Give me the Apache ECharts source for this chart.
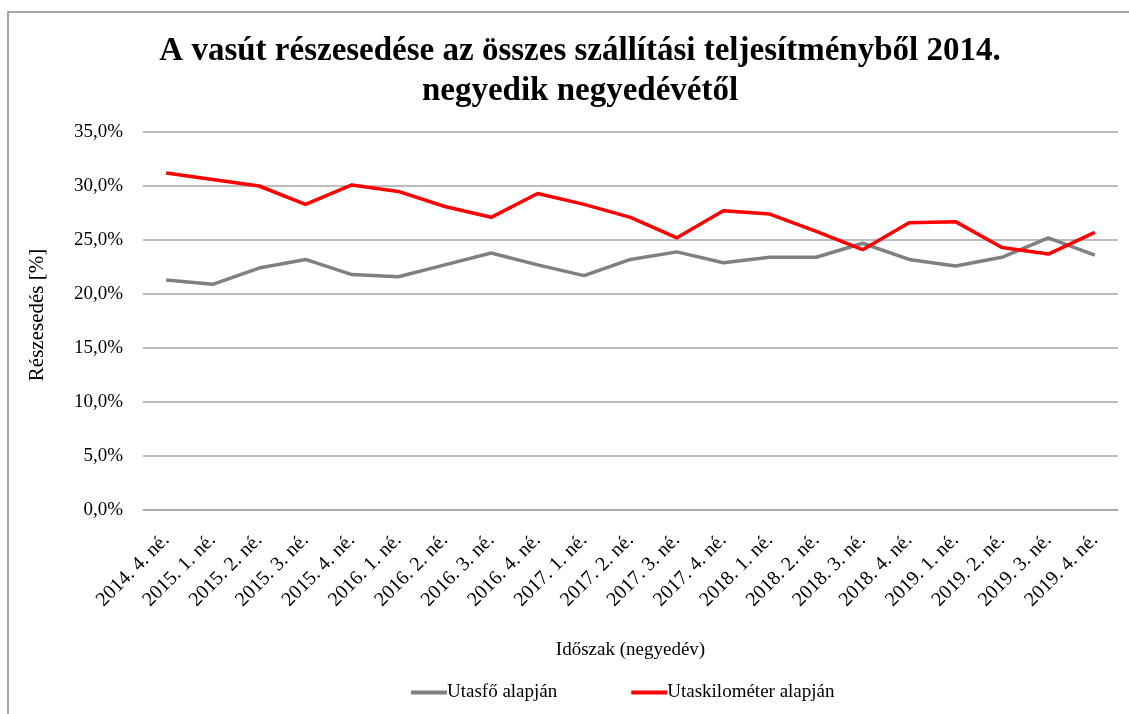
<!DOCTYPE html>
<html>
<head>
<meta charset="utf-8">
<script src="https://cdn.jsdelivr.net/npm/echarts@6/dist/echarts.min.js"></script>
<style>
  html, body { margin: 0; padding: 0; background: #fff; }
  #chart { width: 1129px; height: 714px; }
</style>
</head>
<body>
<div id="chart"></div>
<script>
const quarters = ['2014. 4. né.', '2015. 1. né.', '2015. 2. né.', '2015. 3. né.', '2015. 4. né.',
  '2016. 1. né.', '2016. 2. né.', '2016. 3. né.', '2016. 4. né.', '2017. 1. né.', '2017. 2. né.',
  '2017. 3. né.', '2017. 4. né.', '2018. 1. né.', '2018. 2. né.', '2018. 3. né.', '2018. 4. né.',
  '2019. 1. né.', '2019. 2. né.', '2019. 3. né.', '2019. 4. né.'];

const utasfo = [21.3, 20.9, 22.4, 23.2, 21.8, 21.6, 22.7, 23.8, 22.7, 21.7, 23.2,
  23.9, 22.9, 23.4, 23.4, 24.7, 23.2, 22.6, 23.4, 25.2, 23.6];

const utaskm = [31.2, 30.6, 30.0, 28.3, 30.1, 29.5, 28.1, 27.1, 29.3, 28.3, 27.1,
  25.2, 27.7, 27.4, 25.8, 24.1, 26.6, 26.7, 24.3, 23.7, 25.7];

const serif = '"Liberation Serif", "DejaVu Serif", serif';

function loadChart() {
  let chartDom = document.querySelector('#chart');
  let myChart = echarts.init(chartDom);

  let option = {
    backgroundColor: '#ffffff',
    textStyle: { fontFamily: serif, color: '#000000' },
    graphic: [{
      type: 'rect',
      shape: { x: 8, y: 12, width: 1300, height: 900 },
      style: { fill: 'none', stroke: '#878787', lineWidth: 1.5 },
      silent: true
    }],
    title: {
      text: 'A vasút részesedése az összes szállítási teljesítményből 2014.\nnegyedik negyedévétől',
      left: 575,
      top: 26,
      textAlign: 'center',
      textStyle: {
        fontFamily: serif,
        fontSize: 33,
        fontWeight: 'bold',
        color: '#000000',
        lineHeight: 40,
        align: 'center'
      }
    },
    legend: {
      top: 678,
      left: 406,
      itemGap: 74,
      itemWidth: 36,
      itemHeight: 4,
      icon: 'rect',
      textStyle: { fontFamily: serif, fontSize: 19, color: '#000000', padding: [0, 0, 0, -5] },
      data: ['Utasfő alapján', 'Utaskilométer alapján']
    },
    grid: {
      left: 143,
      right: 11,
      top: 132,
      bottom: 204
    },
    xAxis: {
      type: 'category',
      data: quarters,
      boundaryGap: true,
      name: 'Időszak (negyedév)',
      nameLocation: 'middle',
      nameGap: 131,
      nameTextStyle: { fontFamily: serif, fontSize: 19, color: '#000000' },
      axisLine: { lineStyle: { color: '#a6a6a6', width: 1.5 } },
      axisTick: { show: false },
      axisLabel: {
        rotate: 45,
        interval: 0,
        margin: 27,
        fontFamily: serif,
        fontSize: 20,
        color: '#000000'
      }
    },
    yAxis: {
      type: 'value',
      min: 0,
      max: 35,
      interval: 5,
      name: 'Részesedés [%]',
      nameLocation: 'middle',
      nameRotate: 90,
      nameGap: 95,
      nameTextStyle: { fontFamily: serif, fontSize: 21, color: '#000000', padding: [0, 0, 0, 12] },
      axisLine: { show: false },
      axisTick: { show: false },
      axisLabel: {
        margin: 20,
        fontFamily: serif,
        fontSize: 19,
        color: '#000000',
        formatter: (v) => v.toFixed(1).replace('.', ',') + '%'
      },
      splitLine: { lineStyle: { color: '#a6a6a6', width: 1.5 } }
    },
    series: [
      {
        name: 'Utasfő alapján',
        type: 'line',
        data: utasfo,
        symbol: 'none',
        color: '#808080',
        lineStyle: { color: '#808080', width: 3.5 }
      },
      {
        name: 'Utaskilométer alapján',
        type: 'line',
        data: utaskm,
        symbol: 'none',
        color: '#ff0000',
        lineStyle: { color: '#ff0000', width: 3.5 }
      }
    ]
  };

  myChart.setOption(option);
}

document.addEventListener('DOMContentLoaded', () => {
  loadChart();
});
</script>
</body>
</html>
